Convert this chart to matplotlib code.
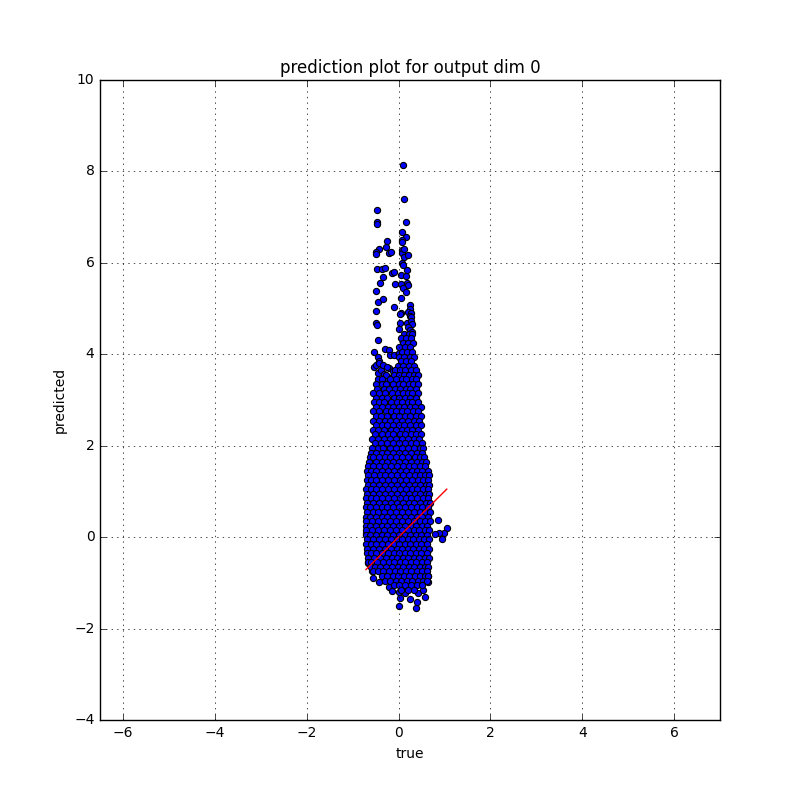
import matplotlib
matplotlib.use('Agg')
import matplotlib.pyplot as plt
import numpy as np

# scattered points outside the dense core (true, predicted)
outlier_true = [0.10, 0.13, -0.47, -0.46, -0.46, 0.16, 0.08, 0.16, 0.08, 0.08, -0.24, -0.27,
                -0.43, -0.49, -0.48, -0.20, -0.17, 0.08, 0.08, 0.13, 0.11, 0.21, 0.08, 0.10,
                -0.47, -0.37, -0.30, 0.18, -0.15, -0.10, -0.33, 0.06, 0.17, -0.40, -0.07, 0.06,
                0.19, 0.21, 0.10, 0.17, 0.06, -0.48, -0.45, -0.34, -0.09, 0.26, 0.24, 0.20,
                0.27, 0.26, 0.28, 0.06, 0.04, -0.48, -0.48, -0.47, 0.04, 0.18, 0.27, 0.29,
                0.20, 0.25, 0.30, 0.02, -0.44, -0.29, -0.20, -0.53, -0.45, -0.43, -0.18, -0.09,
                0.00, -0.53, -0.45, -0.39, -0.32, -0.21, -0.13, -0.50, -0.42, -0.33, -0.24, -0.29,
                -0.13,
                -0.71, -0.66, -0.57, -0.55, -0.42, -0.42, -0.20, -0.15, 0.02, 0.03, 0.02, 0.14,
                0.24, 0.37, 0.40, 0.43, 0.58, 0.54, 0.64, 0.65,
                0.85, 1.05, 1.00, 0.95, 0.89, 0.79]
outlier_pred = [8.14, 7.39, 7.15, 6.90, 6.85, 6.89, 6.67, 6.56, 6.51, 6.45, 6.48, 6.34,
                6.30, 6.24, 6.19, 6.22, 6.24, 6.28, 6.22, 6.31, 6.12, 6.17, 5.99, 5.95,
                5.87, 5.87, 5.88, 5.84, 5.78, 5.80, 5.70, 5.73, 5.71, 5.57, 5.53, 5.53,
                5.57, 5.51, 5.45, 5.36, 5.23, 5.38, 5.15, 5.20, 5.04, 5.08, 4.98, 4.92,
                4.90, 4.84, 4.81, 4.91, 4.88, 4.94, 4.69, 4.63, 4.68, 4.69, 4.72, 4.66,
                4.59, 4.53, 4.49, 4.55, 4.31, 4.11, 4.09, 4.05, 3.95, 3.85, 3.99, 3.98,
                4.02, 3.72, 3.60, 3.66, 3.57, 3.71, 3.64, 3.76, 3.80, 3.77, 3.73, 3.47,
                3.52,
                0.10, -0.57, -0.74, -0.90, -0.99, -0.72, -1.08, -1.18, -1.19, -1.34, -1.51, -1.23,
                -1.36, -1.56, -1.41, -1.23, -1.30, -1.16, -0.99, -0.85,
                0.37, 0.21, 0.10, -0.05, 0.08, 0.07]

# dense core, read row by row: predicted level -> true values on that row
core_levels = [4.45, 4.35, 4.25, 4.15, 4.05, 3.95, 3.85, 3.75, 3.65, 3.55, 3.45, 3.35,
               3.25, 3.15, 3.05, 2.95, 2.85, 2.75, 2.65, 2.55, 2.45, 2.35, 2.25, 2.15,
               2.05, 1.95, 1.85, 1.75, 1.65, 1.55, 1.45, 1.35, 1.25, 1.15, 1.05, 0.95,
               0.85, 0.75, 0.65, 0.55, 0.45, 0.35, 0.25, 0.15, 0.05, -0.05, -0.15, -0.25,
               -0.35, -0.45, -0.55, -0.65, -0.75, -0.85, -0.95, -1.05, -1.15]
core_rows = [
    [0.12, 0.22, 0.30],
    [0.05, 0.17, 0.27],
    [0.10, 0.21, 0.32],
    [0.02, 0.14, 0.25],
    [0.07, 0.19, 0.30],
    [0.00, 0.12, 0.24, 0.34],
    [0.05, 0.17, 0.28],
    [-0.02, 0.10, 0.22, 0.33],
    [-0.08, 0.04, 0.15, 0.27, 0.38],
    [-0.28, -0.10, 0.00, 0.13, 0.22, 0.33, 0.42],
    [-0.45, -0.36, -0.18, -0.06, 0.07, 0.16, 0.29, 0.38],
    [-0.50, -0.37, -0.27, -0.12, 0.00, 0.10, 0.23, 0.32, 0.43],
    [-0.47, -0.31, -0.21, -0.07, 0.04, 0.17, 0.26, 0.38],
    [-0.55, -0.42, -0.29, -0.15, -0.02, 0.09, 0.21, 0.30, 0.42],
    [-0.50, -0.36, -0.24, -0.10, 0.02, 0.14, 0.25, 0.37],
    [-0.54, -0.43, -0.31, -0.17, -0.04, 0.07, 0.20, 0.30, 0.42],
    [-0.49, -0.35, -0.23, -0.11, 0.01, 0.12, 0.24, 0.36, 0.48],
    [-0.55, -0.42, -0.28, -0.16, -0.05, 0.08, 0.18, 0.31, 0.43],
    [-0.50, -0.38, -0.24, -0.10, 0.02, 0.15, 0.26, 0.37, 0.50],
    [-0.56, -0.43, -0.30, -0.18, -0.06, 0.07, 0.20, 0.33, 0.44],
    [-0.50, -0.37, -0.25, -0.13, 0.01, 0.13, 0.24, 0.38, 0.49],
    [-0.55, -0.44, -0.31, -0.17, -0.05, 0.07, 0.19, 0.30, 0.43],
    [-0.51, -0.37, -0.23, -0.11, 0.03, 0.14, 0.27, 0.38, 0.50],
    [-0.57, -0.44, -0.32, -0.18, -0.05, 0.08, 0.20, 0.33, 0.45],
    [-0.52, -0.39, -0.25, -0.12, 0.01, 0.15, 0.27, 0.39, 0.52],
    [-0.58, -0.45, -0.33, -0.19, -0.06, 0.07, 0.21, 0.33, 0.46, 0.54],
    [-0.60, -0.50, -0.37, -0.24, -0.12, 0.01, 0.14, 0.28, 0.40, 0.52],
    [-0.63, -0.55, -0.42, -0.30, -0.18, -0.05, 0.08, 0.21, 0.35, 0.46, 0.56],
    [-0.65, -0.49, -0.37, -0.24, -0.11, 0.02, 0.15, 0.27, 0.40, 0.52, 0.60],
    [-0.67, -0.55, -0.42, -0.29, -0.17, -0.04, 0.10, 0.22, 0.34, 0.47, 0.58],
    [-0.69, -0.60, -0.48, -0.36, -0.23, -0.10, 0.03, 0.16, 0.29, 0.40, 0.52, 0.64],
    [-0.66, -0.54, -0.41, -0.29, -0.16, -0.03, 0.10, 0.22, 0.35, 0.47, 0.58, 0.66],
    [-0.69, -0.60, -0.48, -0.35, -0.22, -0.09, 0.04, 0.17, 0.29, 0.42, 0.53, 0.64],
    [-0.67, -0.55, -0.42, -0.30, -0.16, -0.03, 0.10, 0.23, 0.35, 0.47, 0.59, 0.67],
    [-0.70, -0.61, -0.49, -0.36, -0.23, -0.10, 0.03, 0.16, 0.29, 0.41, 0.53, 0.64],
    [-0.68, -0.55, -0.43, -0.30, -0.17, -0.04, 0.09, 0.22, 0.35, 0.47, 0.59, 0.67],
    [-0.70, -0.61, -0.49, -0.36, -0.23, -0.10, 0.03, 0.16, 0.28, 0.41, 0.53, 0.65],
    [-0.69, -0.56, -0.43, -0.30, -0.17, -0.04, 0.09, 0.22, 0.34, 0.47, 0.59, 0.68],
    [-0.70, -0.62, -0.50, -0.37, -0.24, -0.11, 0.02, 0.15, 0.28, 0.40, 0.52, 0.64],
    [-0.69, -0.56, -0.44, -0.31, -0.18, -0.05, 0.08, 0.21, 0.34, 0.46, 0.58, 0.68],
    [-0.71, -0.62, -0.50, -0.37, -0.24, -0.11, 0.02, 0.15, 0.27, 0.40, 0.52, 0.64],
    [-0.70, -0.57, -0.44, -0.31, -0.18, -0.05, 0.08, 0.21, 0.33, 0.46, 0.58, 0.68],
    [-0.71, -0.62, -0.50, -0.37, -0.24, -0.11, 0.02, 0.15, 0.27, 0.39, 0.51, 0.63],
    [-0.70, -0.57, -0.44, -0.31, -0.18, -0.05, 0.08, 0.21, 0.33, 0.45, 0.57, 0.67],
    [-0.71, -0.62, -0.50, -0.37, -0.24, -0.11, 0.02, 0.14, 0.26, 0.38, 0.50, 0.62],
    [-0.69, -0.56, -0.43, -0.30, -0.17, -0.04, 0.08, 0.20, 0.32, 0.44, 0.56, 0.66],
    [-0.70, -0.61, -0.49, -0.36, -0.23, -0.10, 0.02, 0.14, 0.26, 0.38, 0.50, 0.62],
    [-0.68, -0.55, -0.42, -0.29, -0.16, -0.04, 0.08, 0.20, 0.32, 0.44, 0.56, 0.66],
    [-0.69, -0.60, -0.48, -0.35, -0.22, -0.10, 0.02, 0.14, 0.26, 0.38, 0.50, 0.62],
    [-0.67, -0.54, -0.41, -0.28, -0.15, -0.03, 0.09, 0.21, 0.33, 0.45, 0.57, 0.66],
    [-0.66, -0.59, -0.47, -0.34, -0.21, -0.09, 0.03, 0.15, 0.27, 0.39, 0.51, 0.63],
    [-0.60, -0.52, -0.40, -0.27, -0.14, -0.02, 0.10, 0.22, 0.34, 0.46, 0.57, 0.65],
    [-0.55, -0.45, -0.33, -0.20, -0.08, 0.04, 0.16, 0.28, 0.40, 0.52, 0.63],
    [-0.35, -0.25, -0.13, -0.01, 0.11, 0.23, 0.35, 0.47, 0.58, 0.65],
    [-0.30, -0.18, -0.06, 0.06, 0.18, 0.30, 0.42, 0.54, 0.63],
    [-0.10, 0.02, 0.14, 0.27, 0.40, 0.52],
    [0.05, 0.20, 0.33],
]

true_vals = list(outlier_true)
pred_vals = list(outlier_pred)
for level, row in zip(core_levels, core_rows):
    true_vals += row
    pred_vals += [level] * len(row)
true_vals = np.array(true_vals)
pred_vals = np.array(pred_vals)

plt.style.use('classic')
plt.rcParams['font.size'] = 10
fig = plt.figure(figsize=(8, 8), dpi=100, facecolor='white')
ax = fig.add_subplot(111)

ax.scatter(true_vals, pred_vals, s=20, c='b', edgecolors='k', linewidths=0.8)
lo, hi = true_vals.min(), true_vals.max()
ax.plot([lo, hi], [lo, hi], 'r-')

ax.set_xlim(-6.5, 7)
ax.set_ylim(-4, 10)
ax.grid(True)
ax.set_title('prediction plot for output dim 0')
ax.set_xlabel('true')
ax.set_ylabel('predicted')

fig.savefig('out.png', dpi=100, facecolor='white')
